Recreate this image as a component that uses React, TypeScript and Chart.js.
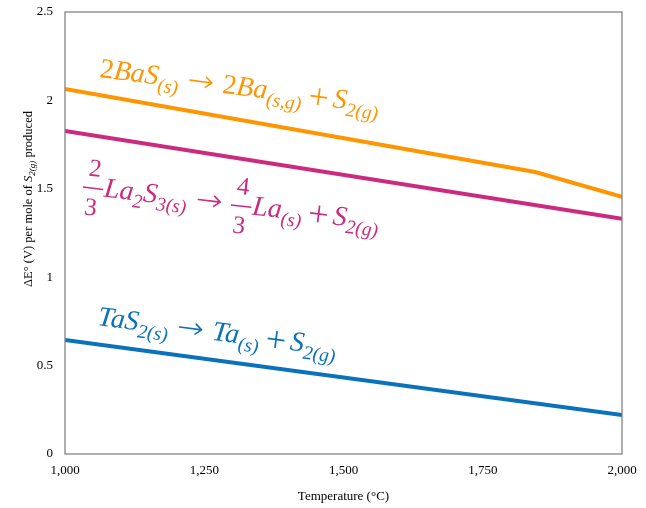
import React, { useEffect, useRef } from "react";
import { Chart, registerables } from "chart.js";

Chart.register(...registerables);

const baTemps = [1000, 1844, 2000];
const baValues = [2.064, 1.595, 1.455];
const laTemps = [1000, 2000];
const laValues = [1.827, 1.33];
const taTemps = [1000, 2000];
const taValues = [0.645, 0.22];
const xTicks = [1000, 1250, 1500, 1750, 2000];
const yTicks = [0, 0.5, 1, 1.5, 2, 2.5];

const ORANGE = "#FF9500";
const MAGENTA = "#CC2A7E";
const BLUE = "#0A72BA";
const SERIF = '"Liberation Serif", "DejaVu Serif", serif';

type Seg =
  | { t: string; s?: number; dy?: number; it?: boolean }
  | { frac: [string, string] }
  | { arrow: true }
  | { plus: true };

function drawRich(ctx: CanvasRenderingContext2D, x: number, y: number, ang: number, segs: Seg[], color: string, base: number) {
  ctx.save();
  ctx.translate(x, y);
  ctx.rotate(ang);
  ctx.fillStyle = color;
  ctx.strokeStyle = color;
  ctx.textBaseline = "alphabetic";
  ctx.textAlign = "left";
  ctx.lineCap = "round";
  ctx.lineJoin = "round";
  let cx = 0;
  const axis = -8.5;
  for (const sg of segs) {
    if ("frac" in sg) {
      ctx.font = `25px ${SERIF}`;
      const w1 = ctx.measureText(sg.frac[0]).width;
      const w2 = ctx.measureText(sg.frac[1]).width;
      const w = Math.max(w1, w2) + 8;
      ctx.fillText(sg.frac[0], cx + (w - w1) / 2, -19);
      ctx.fillText(sg.frac[1], cx + (w - w2) / 2, 20);
      ctx.lineWidth = 1.5;
      ctx.lineCap = "butt";
      ctx.beginPath();
      ctx.moveTo(cx, -7);
      ctx.lineTo(cx + w, -7);
      ctx.stroke();
      ctx.lineCap = "round";
      cx += w + 1;
    } else if ("arrow" in sg) {
      const x0 = cx + 11;
      const x1 = x0 + 22;
      ctx.lineWidth = 1.6;
      ctx.beginPath();
      ctx.moveTo(x0, axis);
      ctx.lineTo(x1, axis);
      ctx.moveTo(x1 - 6, axis - 5);
      ctx.lineTo(x1, axis);
      ctx.lineTo(x1 - 6, axis + 5);
      ctx.stroke();
      cx += 44;
    } else if ("plus" in sg) {
      const x0 = cx + 8;
      const w = 17;
      ctx.lineWidth = 1.7;
      ctx.lineCap = "butt";
      ctx.beginPath();
      ctx.moveTo(x0, axis);
      ctx.lineTo(x0 + w, axis);
      ctx.moveTo(x0 + w / 2, axis - w / 2);
      ctx.lineTo(x0 + w / 2, axis + w / 2);
      ctx.stroke();
      ctx.lineCap = "round";
      cx += 8 + w + 6;
    } else {
      const size = sg.s ?? base;
      ctx.font = `${sg.it === false ? "" : "italic "}${size}px ${SERIF}`;
      ctx.fillText(sg.t, cx, sg.dy ?? 0);
      cx += ctx.measureText(sg.t).width;
    }
  }
  ctx.restore();
}

const textPlugin = {
  id: "texts",
  afterDraw(chart: any) {
    const ctx: CanvasRenderingContext2D = chart.ctx;
    const a = chart.chartArea;
    ctx.save();
    ctx.strokeStyle = "#7a7a7a";
    ctx.lineWidth = 1.2;
    ctx.strokeRect(a.left, a.top, a.right - a.left, a.bottom - a.top);
    ctx.restore();

    const B = 28;
    const S = 19.5;
    const D = 7;
    const ang = 0.128;
    drawRich(ctx, 99, 77, ang, [
      { t: "2", it: false },
      { t: "BaS" },
      { t: "(s)", s: S, dy: D },
      { arrow: true },
      { t: "2", it: false },
      { t: "Ba" },
      { t: "(s,g)", s: S, dy: D },
      { plus: true },
      { t: "S" },
      { t: "2(g)", s: S, dy: D },
    ], ORANGE, B);

    drawRich(ctx, 82, 194, 0.12, [
      { frac: ["2", "3"] },
      { t: "La" },
      { t: "2", s: S, dy: D },
      { t: "S" },
      { t: "3(s)", s: S, dy: D },
      { arrow: true },
      { frac: ["4", "3"] },
      { t: "La" },
      { t: "(s)", s: S, dy: D },
      { plus: true },
      { t: "S" },
      { t: "2(g)", s: S, dy: D },
    ], MAGENTA, B);

    drawRich(ctx, 97, 325, ang, [
      { t: "TaS" },
      { t: "2(s)", s: S, dy: D },
      { arrow: true },
      { t: "Ta" },
      { t: "(s)", s: S, dy: D },
      { plus: true },
      { t: "S" },
      { t: "2(g)", s: S, dy: D },
    ], BLUE, B);

    ctx.save();
    ctx.fillStyle = "#000";
    ctx.font = `13px ${SERIF}`;
    ctx.textAlign = "center";
    ctx.textBaseline = "alphabetic";
    ctx.fillText("Temperature (\u00B0C)", (a.left + a.right) / 2, 500);
    ctx.restore();

    const ysegs: { t: string; s: number; dy: number; it: boolean }[] = [
      { t: "\u0394E\u00B0 (V) per mole of ", s: 12.5, dy: 0, it: false },
      { t: "S", s: 12.5, dy: 0, it: true },
      { t: "2(g)", s: 9, dy: 3, it: true },
      { t: " produced", s: 12.5, dy: 0, it: false },
    ];
    ctx.save();
    let total = 0;
    for (const sg of ysegs) {
      ctx.font = `${sg.it ? "italic " : ""}${sg.s}px ${SERIF}`;
      total += ctx.measureText(sg.t).width;
    }
    ctx.translate(32, 199);
    ctx.rotate(-Math.PI / 2);
    ctx.fillStyle = "#000";
    ctx.textBaseline = "alphabetic";
    let cx = -total / 2;
    for (const sg of ysegs) {
      ctx.font = `${sg.it ? "italic " : ""}${sg.s}px ${SERIF}`;
      ctx.fillText(sg.t, cx, sg.dy);
      cx += ctx.measureText(sg.t).width;
    }
    ctx.restore();
  },
};

export default function App() {
  const ref = useRef<HTMLCanvasElement>(null);
  useEffect(() => {
    if (!ref.current) return;
    const mk = (xs: number[], ys: number[]) => xs.map((x, i) => ({ x, y: ys[i] }));
    const chart = new Chart(ref.current, {
      type: "line",
      data: {
        datasets: [
          { data: mk(baTemps, baValues), borderColor: ORANGE, borderWidth: 4, pointRadius: 0, tension: 0, fill: false },
          { data: mk(laTemps, laValues), borderColor: MAGENTA, borderWidth: 4, pointRadius: 0, tension: 0, fill: false },
          { data: mk(taTemps, taValues), borderColor: BLUE, borderWidth: 4, pointRadius: 0, tension: 0, fill: false },
        ],
      },
      options: {
        animation: false,
        responsive: false,
        devicePixelRatio: 1,
        layout: { padding: { left: 0, right: 24, top: 12, bottom: 0 } },
        plugins: { legend: { display: false }, tooltip: { enabled: false }, title: { display: false } },
        scales: {
          x: {
            type: "linear",
            min: 1000,
            max: 2000,
            afterFit: (s: any) => { s.height = 54; s.paddingLeft = 0; s.paddingRight = 0; },
            afterBuildTicks: (s: any) => { s.ticks = xTicks.map((v) => ({ value: v })); },
            grid: { display: false, drawTicks: false },
            border: { display: false },
            ticks: {
              padding: 9,
              color: "#000",
              font: { family: SERIF, size: 13 },
              maxRotation: 0,
              callback: (v: any) => Number(v).toLocaleString("en-US"),
            },
          },
          y: {
            type: "linear",
            min: 0,
            max: 2.5,
            afterFit: (s: any) => { s.width = 65; s.paddingTop = 0; s.paddingBottom = 0; },
            afterBuildTicks: (s: any) => { s.ticks = yTicks.map((v) => ({ value: v })); },
            grid: { display: false, drawTicks: false },
            border: { display: false },
            ticks: {
              padding: 12,
              color: "#000",
              font: { family: SERIF, size: 13 },
              callback: (v: any) => String(v),
            },
          },
        },
      },
      plugins: [textPlugin],
    });
    return () => chart.destroy();
  }, []);
  return (
    <div style={{ position: "fixed", left: 0, top: 0, width: 646, height: 508, background: "#fff" }}>
      <canvas ref={ref} width={646} height={508} style={{ width: 646, height: 508 }} />
    </div>
  );
}
